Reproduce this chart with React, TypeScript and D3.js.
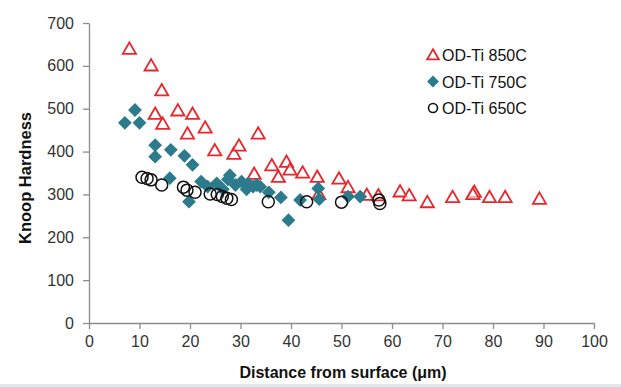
import React, { useEffect, useRef } from 'react';
import * as d3 from 'd3';

// [distance (µm), Knoop hardness]
const series850: [number, number][] = [
  [8.0, 637], [12.3, 598], [14.4, 540], [13.1, 485], [14.6, 462], [17.6, 493],
  [20.5, 485], [19.5, 439], [23.0, 453], [24.9, 400], [28.7, 392], [29.7, 411],
  [33.5, 439], [32.7, 345], [36.2, 365], [39.1, 373], [39.8, 355], [37.5, 338],
  [42.3, 348], [45.2, 338], [45.5, 298], [49.5, 334], [51.3, 314], [55.0, 296],
  [57.3, 295], [61.6, 304], [63.4, 295], [67.0, 279], [72.0, 291], [76.3, 303],
  [76.0, 298], [79.3, 291], [82.4, 291], [89.2, 287],
];

const series750: [number, number][] = [
  [7.1, 467], [9.1, 497], [10.0, 467], [13.1, 415], [13.1, 388], [16.2, 404],
  [16.0, 338], [18.9, 390], [20.5, 369], [19.8, 283], [22.2, 330], [23.5, 318],
  [25.3, 326], [26.5, 312], [27.9, 345], [27.5, 335], [29.0, 322], [30.2, 330],
  [31.2, 312], [31.5, 326], [32.5, 318], [33.2, 322], [33.9, 318], [35.6, 305],
  [38.0, 293], [39.5, 240], [41.8, 287], [45.4, 314], [45.6, 289], [51.3, 295],
  [53.7, 295],
];

const series650: [number, number][] = [
  [10.5, 340], [11.5, 337], [12.3, 334], [14.4, 322], [18.7, 317], [19.4, 310],
  [21.0, 305], [24.0, 301], [25.4, 300], [26.4, 295], [27.3, 291], [28.2, 288],
  [35.5, 283], [43.1, 283], [50.0, 282], [57.4, 287], [57.6, 279],
];

const legendLabels = ['OD-Ti 850C', 'OD-Ti 750C', 'OD-Ti 650C'];
const xTicks = [0, 10, 20, 30, 40, 50, 60, 70, 80, 90, 100];
const yTicks = [0, 100, 200, 300, 400, 500, 600, 700];

const RED = '#e8262c';
const TEAL = '#2b7b8c';
const FONT = '"Liberation Sans", Arial, sans-serif';

export default function App() {
  const svgRef = useRef<SVGSVGElement>(null);

  useEffect(() => {
    if (!svgRef.current) return;
    const svg = d3.select(svgRef.current);
    svg.selectAll('*').remove();

    const x = d3.scaleLinear().domain([0, 100]).range([89, 594]);
    const y = d3.scaleLinear().domain([0, 700]).range([323, 23]);

    svg.append('rect').attr('width', 621).attr('height', 387).attr('fill', '#fff');
    svg.append('rect').attr('x', 0).attr('y', 384).attr('width', 621).attr('height', 3).attr('fill', '#e3e7eb');

    // axes
    const xAxis = svg.append('g')
      .attr('transform', `translate(0,${y(0)})`)
      .call(d3.axisBottom(x).tickValues(xTicks).tickSize(6).tickSizeOuter(0).tickPadding(7));
    const yAxis = svg.append('g')
      .attr('transform', `translate(${x(0)},0)`)
      .call(d3.axisLeft(y).tickValues(yTicks).tickSize(6).tickSizeOuter(0).tickPadding(9));

    [xAxis, yAxis].forEach(a => {
      a.selectAll('path, line').attr('stroke', '#8c8c8c').attr('stroke-width', 1.3);
      a.selectAll('text')
        .attr('fill', '#333')
        .style('font-family', FONT)
        .style('font-size', '16px');
    });

    // axis titles
    svg.append('text')
      .attr('x', 343)
      .attr('y', 378)
      .attr('text-anchor', 'middle')
      .style('font-family', FONT)
      .style('font-size', '16px')
      .style('font-weight', 'bold')
      .attr('fill', '#111')
      .text('Distance from surface (\u03bcm)');

    svg.append('text')
      .attr('transform', 'translate(31,178) rotate(-90)')
      .attr('text-anchor', 'middle')
      .style('font-family', FONT)
      .style('font-size', '16.5px')
      .style('font-weight', 'bold')
      .attr('fill', '#111')
      .text('Knoop Hardness');

    const tri = d3.symbol().type(d3.symbolTriangle).size(75);
    const dia = d3.symbol().type(d3.symbolSquare).size(95);

    const plot = svg.append('g');

    plot.selectAll('.t850')
      .data(series850)
      .enter()
      .append('path')
      .attr('d', tri)
      .attr('transform', d => `translate(${x(d[0])},${y(d[1])})`)
      .attr('fill', '#fff')
      .attr('fill-opacity', 0.6)
      .attr('stroke', RED)
      .attr('stroke-width', 1.8);

    plot.selectAll('.d750')
      .data(series750)
      .enter()
      .append('path')
      .attr('d', dia)
      .attr('transform', d => `translate(${x(d[0])},${y(d[1])}) rotate(45)`)
      .attr('fill', TEAL);

    plot.selectAll('.c650')
      .data(series650)
      .enter()
      .append('circle')
      .attr('cx', d => x(d[0]))
      .attr('cy', d => y(d[1]))
      .attr('r', 6)
      .attr('fill', 'none')
      .attr('stroke', '#111')
      .attr('stroke-width', 1.5);

    // legend
    const legend = svg.append('g').attr('transform', 'translate(433,55)');
    const rowH = 26.5;
    legend.append('path')
      .attr('d', d3.symbol().type(d3.symbolTriangle).size(60))
      .attr('transform', 'translate(0,1)')
      .attr('fill', '#fff')
      .attr('stroke', RED)
      .attr('stroke-width', 1.8);
    legend.append('path')
      .attr('d', d3.symbol().type(d3.symbolSquare).size(70))
      .attr('transform', `translate(0,${rowH}) rotate(45)`)
      .attr('fill', TEAL);
    legend.append('circle')
      .attr('cx', 0)
      .attr('cy', rowH * 2)
      .attr('r', 4.5)
      .attr('fill', 'none')
      .attr('stroke', '#111')
      .attr('stroke-width', 1.6);

    legend.selectAll('.lab')
      .data(legendLabels)
      .enter()
      .append('text')
      .attr('x', 9)
      .attr('y', (_, i) => i * rowH + 6)
      .style('font-family', FONT)
      .style('font-size', '16px')
      .attr('fill', '#111')
      .text(d => d);
  }, []);

  return (
    <svg
      ref={svgRef}
      width={621}
      height={387}
      style={{ position: 'absolute', left: 0, top: 0 }}
    ></svg>
  );
}
